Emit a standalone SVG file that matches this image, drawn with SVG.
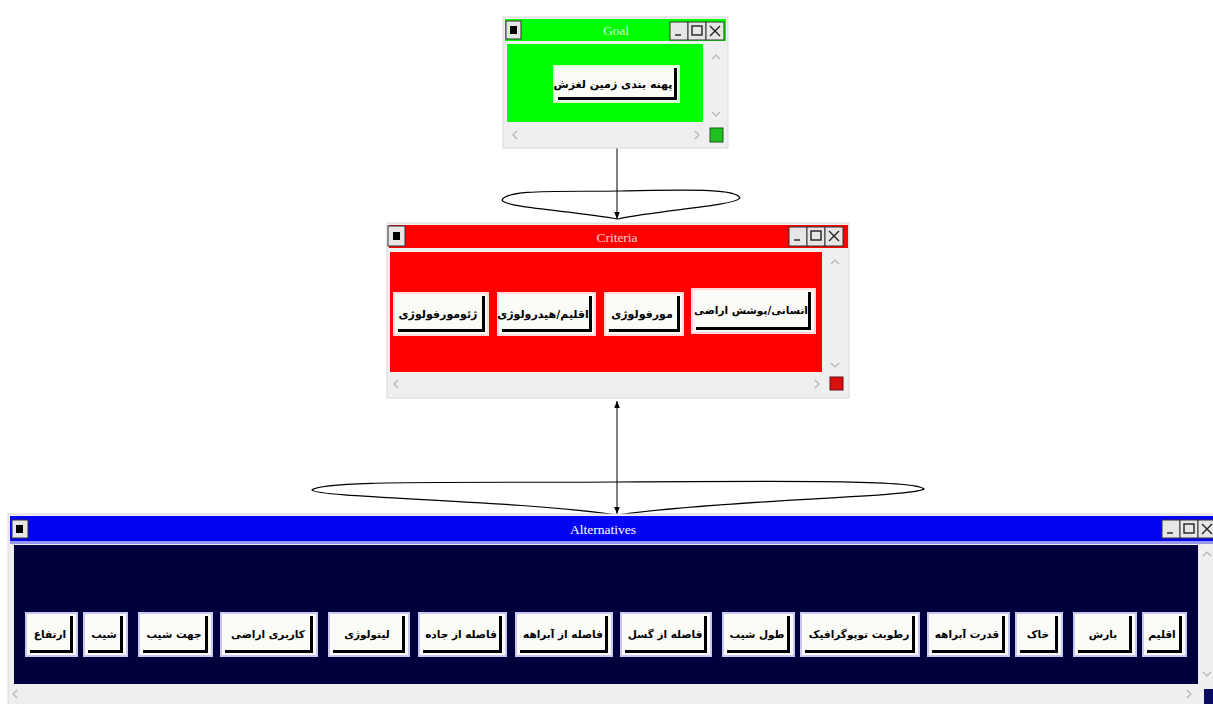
<svg xmlns="http://www.w3.org/2000/svg" width="1213" height="704" viewBox="0 0 1213 704">
<style>
.frame{fill:#efefef;stroke:#d8d8d8;stroke-width:1}
.title{font-family:"Liberation Serif",serif;font-size:13.5px;text-anchor:middle}
.lbl{font-family:"DejaVu Sans",sans-serif;font-size:10.5px;font-weight:bold;text-anchor:middle;fill:#000}
.big{font-size:11px}
.face{fill:#fbfbf8}
.shadow{fill:#000}
.chev{fill:none;stroke:#b4b4b4;stroke-width:1.2}
.tbtn{fill:#e6e6e6;stroke:#333;stroke-width:1}
.ico{fill:none;stroke:#222;stroke-width:1.4}
.conn{fill:none;stroke:#000;stroke-width:1}
.loop{fill:#fff;stroke:#000;stroke-width:1.2}
</style>
<defs>
<marker id="ah" viewBox="0 0 10 10" refX="10" refY="5" markerWidth="7" markerHeight="7" orient="auto-start-reverse">
<path d="M0,1 L10,5 L0,9 Z" fill="#000"/>
</marker>
</defs>
<rect width="1213" height="704" fill="#fff"/>

<g id="connectors">
<path class="loop" d="M502,200 C508,189 560,192 620,191 C685,190 736,188 740,198 C734,206 660,210 618,219 C575,211 505,208 502,200 Z"/>
<path class="loop" d="M312,490 C322,480 450,483 617,482 C800,481 916,480 924,489 C914,497 720,500 617,515 C515,500 318,498 312,490 Z"/>
<line class="conn" x1="617" y1="148" x2="617" y2="219" marker-end="url(#ah)"/>
<line class="conn" x1="617" y1="401" x2="617" y2="514" marker-start="url(#ah)" marker-end="url(#ah)"/>
</g>

<g id="goal">
<rect class="frame" x="503" y="17" width="225" height="131"/>
<rect x="505" y="19" width="221" height="22" fill="#00ff00"/>
<rect x="507" y="44" width="196" height="78" fill="#00ff00"/>
<rect class="tbtn" x="506" y="21" width="15" height="18"/>
<rect x="510" y="26" width="7" height="8" fill="#000"/>
<text class="title" x="616" y="35" fill="#d8ffd8">Goal</text>
<rect class="tbtn" x="670" y="22" width="18" height="18"/>
<line class="ico" x1="675" y1="35" x2="681" y2="35"/>
<rect class="tbtn" x="688" y="22" width="18" height="18"/>
<rect class="ico" x="692" y="26" width="10" height="9"/>
<rect class="tbtn" x="706" y="22" width="18" height="18"/>
<path class="ico" d="M710,26 L720,36 M720,26 L710,36"/>
<polyline class="chev" points="712,59 716,55 720,59"/>
<polyline class="chev" points="712,112 716,116 720,112"/>
<polyline class="chev" points="517,131 513,135 517,139"/>
<polyline class="chev" points="695,131 699,135 695,139"/>
<rect x="710" y="128" width="13" height="14" fill="#20c020" stroke="#1a5a1a"/>
<g id="goal-btn">
<rect x="553" y="65" width="127" height="38" fill="#d0ffd0"/>
<rect class="face" x="555" y="67" width="123" height="34"/>
<rect class="shadow" x="674" y="68" width="3" height="32"/>
<rect class="shadow" x="558" y="97" width="119" height="3"/>
<text class="lbl big" x="613" y="88" direction="rtl">پهنه بندی زمین لغزش</text>
</g>
</g>

<g id="criteria">
<rect class="frame" x="387" y="223" width="462" height="175"/>
<rect x="389" y="225" width="459" height="23" fill="#ff0000"/>
<rect x="390" y="252" width="432" height="120" fill="#ff0000"/>
<rect class="tbtn" x="388" y="226" width="17" height="20"/>
<rect x="393" y="232" width="7" height="8" fill="#000"/>
<text class="title" x="617" y="242" fill="#ffd0d0">Criteria</text>
<rect class="tbtn" x="789" y="227" width="18" height="19"/>
<line class="ico" x1="794" y1="240" x2="800" y2="240"/>
<rect class="tbtn" x="807" y="227" width="18" height="19"/>
<rect class="ico" x="811" y="231" width="10" height="9"/>
<rect class="tbtn" x="825" y="227" width="18" height="19"/>
<path class="ico" d="M829,231 L839,241 M839,231 L829,241"/>
<polyline class="chev" points="831,264 835,260 839,264"/>
<polyline class="chev" points="831,363 835,367 839,363"/>
<polyline class="chev" points="398,380 394,384 398,388"/>
<polyline class="chev" points="815,380 819,384 815,388"/>
<rect x="830" y="377" width="13" height="13" fill="#d81010" stroke="#6a1010"/>
<g id="c1">
<rect x="393" y="292" width="96" height="44" fill="#ffd8d8"/>
<rect class="face" x="395" y="294" width="92" height="40"/>
<rect class="shadow" x="482" y="296" width="3" height="36"/>
<rect class="shadow" x="398" y="329" width="87" height="3"/>
<text class="lbl big" x="438" y="318" direction="rtl">ژئومورفولوژی</text>
</g>
<g id="c2">
<rect x="497" y="292" width="99" height="44" fill="#ffd8d8"/>
<rect class="face" x="499" y="294" width="95" height="40"/>
<rect class="shadow" x="589" y="296" width="3" height="36"/>
<rect class="shadow" x="502" y="329" width="90" height="3"/>
<text class="lbl big" x="543" y="318" direction="rtl">اقلیم/هیدرولوژی</text>
</g>
<g id="c3">
<rect x="604" y="292" width="80" height="44" fill="#ffd8d8"/>
<rect class="face" x="606" y="294" width="76" height="40"/>
<rect class="shadow" x="677" y="296" width="3" height="36"/>
<rect class="shadow" x="609" y="329" width="71" height="3"/>
<text class="lbl big" x="642" y="318" direction="rtl">مورفولوژی</text>
</g>
<g id="c4">
<rect x="691" y="288" width="125" height="46" fill="#ffd8d8"/>
<rect class="face" x="693" y="290" width="121" height="42"/>
<rect class="shadow" x="808" y="292" width="3" height="38"/>
<rect class="shadow" x="696" y="327" width="115" height="3"/>
<text class="lbl" x="751" y="314" direction="rtl">انسانی/پوشش اراضی</text>
</g>
</g>

<g id="alternatives">
<rect class="frame" x="8" y="514" width="1206" height="191"/>
<rect x="10" y="516" width="1204" height="25" fill="#0404f4"/>
<rect x="10" y="541" width="1204" height="3" fill="#9898f0"/>
<rect x="14" y="545" width="1184" height="139" fill="#00003c"/>
<rect class="tbtn" x="12" y="520" width="16" height="18"/>
<rect x="16" y="525" width="7" height="8" fill="#000"/>
<text class="title" x="603" y="534" fill="#ffffff">Alternatives</text>
<rect class="tbtn" x="1162" y="520" width="18" height="18"/>
<line class="ico" x1="1167" y1="533" x2="1173" y2="533"/>
<rect class="tbtn" x="1180" y="520" width="18" height="18"/>
<rect class="ico" x="1184" y="524" width="10" height="9"/>
<rect class="tbtn" x="1198" y="520" width="18" height="18"/>
<path class="ico" d="M1202,524 L1212,534 M1212,524 L1202,534"/>
<polyline class="chev" points="1203,556 1207,552 1211,556"/>
<polyline class="chev" points="1203,672 1207,676 1211,672"/>
<polyline class="chev" points="17,690 13,694 17,698"/>
<polyline class="chev" points="1187,690 1191,694 1187,698"/>
<rect x="1204" y="689" width="9" height="15" fill="#0a0a60"/>

<g id="a1"><rect x="25" y="612" width="53" height="45" fill="#c8c8f0"/><rect class="face" x="27" y="614" width="49" height="41"/><rect class="shadow" x="70" y="616" width="3" height="37"/><rect class="shadow" x="30" y="650" width="43" height="3"/><text class="lbl" x="50" y="638" direction="rtl">ارتفاع</text></g>
<g id="a2"><rect x="83" y="612" width="45" height="45" fill="#c8c8f0"/><rect class="face" x="85" y="614" width="41" height="41"/><rect class="shadow" x="120" y="616" width="3" height="37"/><rect class="shadow" x="88" y="650" width="35" height="3"/><text class="lbl" x="104" y="638" direction="rtl">شیب</text></g>
<g id="a3"><rect x="138" y="612" width="75" height="45" fill="#c8c8f0"/><rect class="face" x="140" y="614" width="71" height="41"/><rect class="shadow" x="205" y="616" width="3" height="37"/><rect class="shadow" x="143" y="650" width="65" height="3"/><text class="lbl" x="174" y="638" direction="rtl">جهت شیب</text></g>
<g id="a4"><rect x="220" y="612" width="98" height="45" fill="#c8c8f0"/><rect class="face" x="222" y="614" width="94" height="41"/><rect class="shadow" x="310" y="616" width="3" height="37"/><rect class="shadow" x="225" y="650" width="88" height="3"/><text class="lbl" x="268" y="638" direction="rtl">کاربری اراضی</text></g>
<g id="a5"><rect x="328" y="612" width="82" height="45" fill="#c8c8f0"/><rect class="face" x="330" y="614" width="78" height="41"/><rect class="shadow" x="402" y="616" width="3" height="37"/><rect class="shadow" x="333" y="650" width="72" height="3"/><text class="lbl" x="367" y="638" direction="rtl">لیتولوژی</text></g>
<g id="a6"><rect x="418" y="612" width="89" height="45" fill="#c8c8f0"/><rect class="face" x="420" y="614" width="85" height="41"/><rect class="shadow" x="499" y="616" width="3" height="37"/><rect class="shadow" x="423" y="650" width="79" height="3"/><text class="lbl" x="461" y="638" direction="rtl">فاصله از جاده</text></g>
<g id="a7"><rect x="515" y="612" width="98" height="45" fill="#c8c8f0"/><rect class="face" x="517" y="614" width="94" height="41"/><rect class="shadow" x="605" y="616" width="3" height="37"/><rect class="shadow" x="520" y="650" width="88" height="3"/><text class="lbl" x="563" y="638" direction="rtl">فاصله از آبراهه</text></g>
<g id="a8"><rect x="620" y="612" width="92" height="45" fill="#c8c8f0"/><rect class="face" x="622" y="614" width="88" height="41"/><rect class="shadow" x="704" y="616" width="3" height="37"/><rect class="shadow" x="625" y="650" width="82" height="3"/><text class="lbl" x="665" y="638" direction="rtl">فاصله از گسل</text></g>
<g id="a9"><rect x="722" y="612" width="73" height="45" fill="#c8c8f0"/><rect class="face" x="724" y="614" width="69" height="41"/><rect class="shadow" x="787" y="616" width="3" height="37"/><rect class="shadow" x="727" y="650" width="63" height="3"/><text class="lbl" x="757" y="638" direction="rtl">طول شیب</text></g>
<g id="a10"><rect x="800" y="612" width="120" height="45" fill="#c8c8f0"/><rect class="face" x="802" y="614" width="116" height="41"/><rect class="shadow" x="912" y="616" width="3" height="37"/><rect class="shadow" x="805" y="650" width="110" height="3"/><text class="lbl" x="859" y="638" direction="rtl">رطوبت توپوگرافیک</text></g>
<g id="a11"><rect x="927" y="612" width="83" height="45" fill="#c8c8f0"/><rect class="face" x="929" y="614" width="79" height="41"/><rect class="shadow" x="1002" y="616" width="3" height="37"/><rect class="shadow" x="932" y="650" width="73" height="3"/><text class="lbl" x="967" y="638" direction="rtl">قدرت آبراهه</text></g>
<g id="a12"><rect x="1015" y="612" width="48" height="45" fill="#c8c8f0"/><rect class="face" x="1017" y="614" width="44" height="41"/><rect class="shadow" x="1055" y="616" width="3" height="37"/><rect class="shadow" x="1020" y="650" width="38" height="3"/><text class="lbl" x="1038" y="638" direction="rtl">خاک</text></g>
<g id="a13"><rect x="1073" y="612" width="64" height="45" fill="#c8c8f0"/><rect class="face" x="1075" y="614" width="60" height="41"/><rect class="shadow" x="1129" y="616" width="3" height="37"/><rect class="shadow" x="1078" y="650" width="54" height="3"/><text class="lbl" x="1103" y="638" direction="rtl">بارش</text></g>
<g id="a14"><rect x="1142" y="612" width="45" height="45" fill="#c8c8f0"/><rect class="face" x="1144" y="614" width="41" height="41"/><rect class="shadow" x="1179" y="616" width="3" height="37"/><rect class="shadow" x="1147" y="650" width="35" height="3"/><text class="lbl" x="1162" y="638" direction="rtl">اقلیم</text></g>
</g>
</svg>
